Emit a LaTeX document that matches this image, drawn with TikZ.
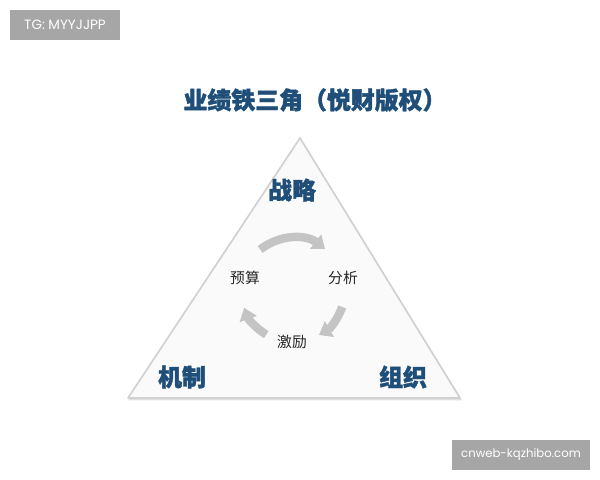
\documentclass[tikz,border=0pt]{standalone}
\usepackage{fontspec}
\newfontfamily\cjk[BoldFeatures={FakeBold=1.6}]{Noto Sans CJK SC}
\newfontfamily\tagfont{Poppins}
\usetikzlibrary{arrows.meta,calc}
\definecolor{titleblue}{HTML}{1F4E79}
\definecolor{taggray}{HTML}{A6A6A6}
\definecolor{cyclegray}{HTML}{C4C4C4}
\tikzstyle{tagbox}=[fill=taggray,text=white,font=\tagfont\fontsize{9.6}{11}\selectfont,inner sep=0pt]
\tikzstyle{cornerlabel}=[text=titleblue,font=\cjk\bfseries\fontsize{17}{20}\selectfont,inner sep=0pt]
\tikzstyle{steplabel}=[text=black!85,font=\cjk\fontsize{10.5}{12}\selectfont,inner sep=0pt]
\tikzstyle{cyclearrow}=[draw=cyclegray,line width=0.21cm,-{Triangle[width=0.44cm,length=0.3cm]}]
\newcommand{\drawcyclearrow}[2]{
\pgfmathsetmacro{\from}{#1}
\pgfmathsetmacro{\to}{#2}
\draw[cyclearrow] ($(cyc)+(\from:\cycr)$) arc[start angle=\from, end angle=\to, radius=\cycr];
}

\begin{document}
\begin{tikzpicture}
	\useasboundingbox (0,0) rectangle (15,12);
	% corner tags
	\node[tagbox,minimum width=2.75cm,minimum height=0.75cm] (tg) at (1.625,11.375) {TG: MYYJJPP};
	\node[tagbox,minimum width=3.45cm,minimum height=0.75cm,font=\tagfont\fontsize{8.3}{10}\selectfont] (web) at (13.025,0.625) {cnweb-kqzhibo.com};
	% title
	\node[cornerlabel] (title) at (7.875,9.5) {业绩铁三角（悦财版权）};
	% triangle
	\coordinate (apex) at (7.5,8.55);
	\coordinate (left) at (3.2,2.05);
	\coordinate (right) at (11.5,2.05);
	\fill[black!12] ($(apex)+(0.04,-0.06)$) -- ($(right)+(0.06,-0.06)$) -- ($(left)+(0,-0.06)$) -- cycle;
	\draw[draw=black!18,fill=black!2,line width=1.2pt,line join=round] (apex) -- (right) -- (left) -- cycle;
	\node[cornerlabel] (strategy) at (7.3,7.25) {战略};
	\node[cornerlabel] (mechanism) at (4.55,2.575) {机制};
	\node[cornerlabel] (organization) at (10.075,2.575) {组织};
	% inner cycle
	\begin{scope}
	\coordinate (cyc) at (7.325,4.75);
	\pgfmathsetmacro{\cycr}{1.3}
	\node[steplabel] (budget) at (6.125,5.05) {预算};
	\node[steplabel] (analysis) at (8.575,5.05) {分析};
	\node[steplabel] (incentive) at (7.3,3.45) {激励};
	\drawcyclearrow{129}{52} %budget->analysis
	\drawcyclearrow{-19}{-60} %analysis->incentive
	\drawcyclearrow{239}{200} %incentive->budget
	\end{scope}
\end{tikzpicture}
\end{document}
